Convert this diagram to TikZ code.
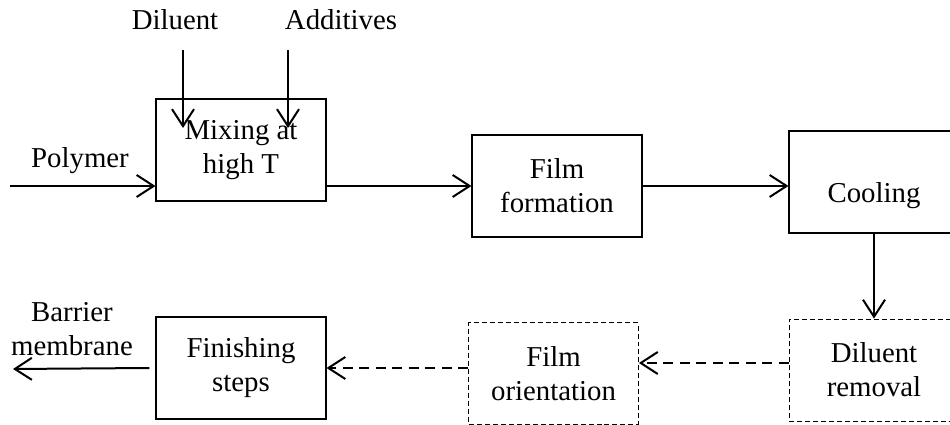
\documentclass[tikz,border=0pt]{standalone}
\usepackage{fontspec}
\setmainfont{Liberation Serif}
\usepackage{tikz}
\usetikzlibrary{arrows.meta, positioning}
\tikzset{>={Straight Barb[length=0.34cm, width=0.44cm, line width=0.04cm]}}
\tikzset{box/.style={draw, line width=0.6pt, minimum width=3.4cm, minimum height=2.04cm, align=center, inner sep=0pt},
         dbox/.style={box, line width=0.5pt, dash pattern=on 0.1cm off 0.06cm},
         arr/.style={->, line width=0.04cm},
         darr/.style={arr, dash pattern=on 0.2cm off 0.13cm}}

\begin{document}
\begin{tikzpicture}[x=0.02cm, y=-0.02cm, font=\fontsize{16.4}{19.4}\selectfont]
    \useasboundingbox (0,0) rectangle (950,425);
    % top row
    \node[box] (mix) at (241,150) {Mixing at\\high T};
    \node[box] (film) at (557,186) {Film\\formation};
    \node[box, text height=0.96cm, text depth=0.12cm] (cool) at (874,182) {Cooling};
    % bottom row
    \node[dbox] (dil) at (874,370) {Diluent\\removal};
    \node[dbox] (orient) at (553.5,373.5) {Film\\orientation};
    \node[box] (finish) at (241,368) {Finishing\\steps};
    % inputs and output
    \node (poly) at (80,161) {Polymer};
    \node (diluent) at (175,20) {Diluent};
    \node (addit) at (341,20) {Additives};
    \node[align=center] (barrier) at (72,329) {Barrier\\membrane};
    \coordinate (pin) at (10,186);
    \coordinate (din) at (183,50);
    \coordinate (dend) at (183,128);
    \coordinate (ain) at (288,50);
    \coordinate (aend) at (288,128);
    \coordinate (bout) at (13,369);
    \draw[arr] (pin) -- (pin -| mix.west);
    \draw[arr] (din) -- (dend);
    \draw[arr] (ain) -- (aend);
    \draw[arr] (mix.east |- film.west) -- (film.west);
    \draw[arr] (film.east) -- (film.east -| cool.west);
    \draw[arr] (cool.south) -- (dil.north);
    \draw[darr] ([yshift=0.14cm]dil.west) -- ([yshift=0.14cm]dil.west -| orient.east);
    \draw[darr] (orient.west |- finish.east) -- (finish.east);
    \draw[arr] ([xshift=-0.12cm]finish.west) -- (bout);
\end{tikzpicture}
\end{document}
